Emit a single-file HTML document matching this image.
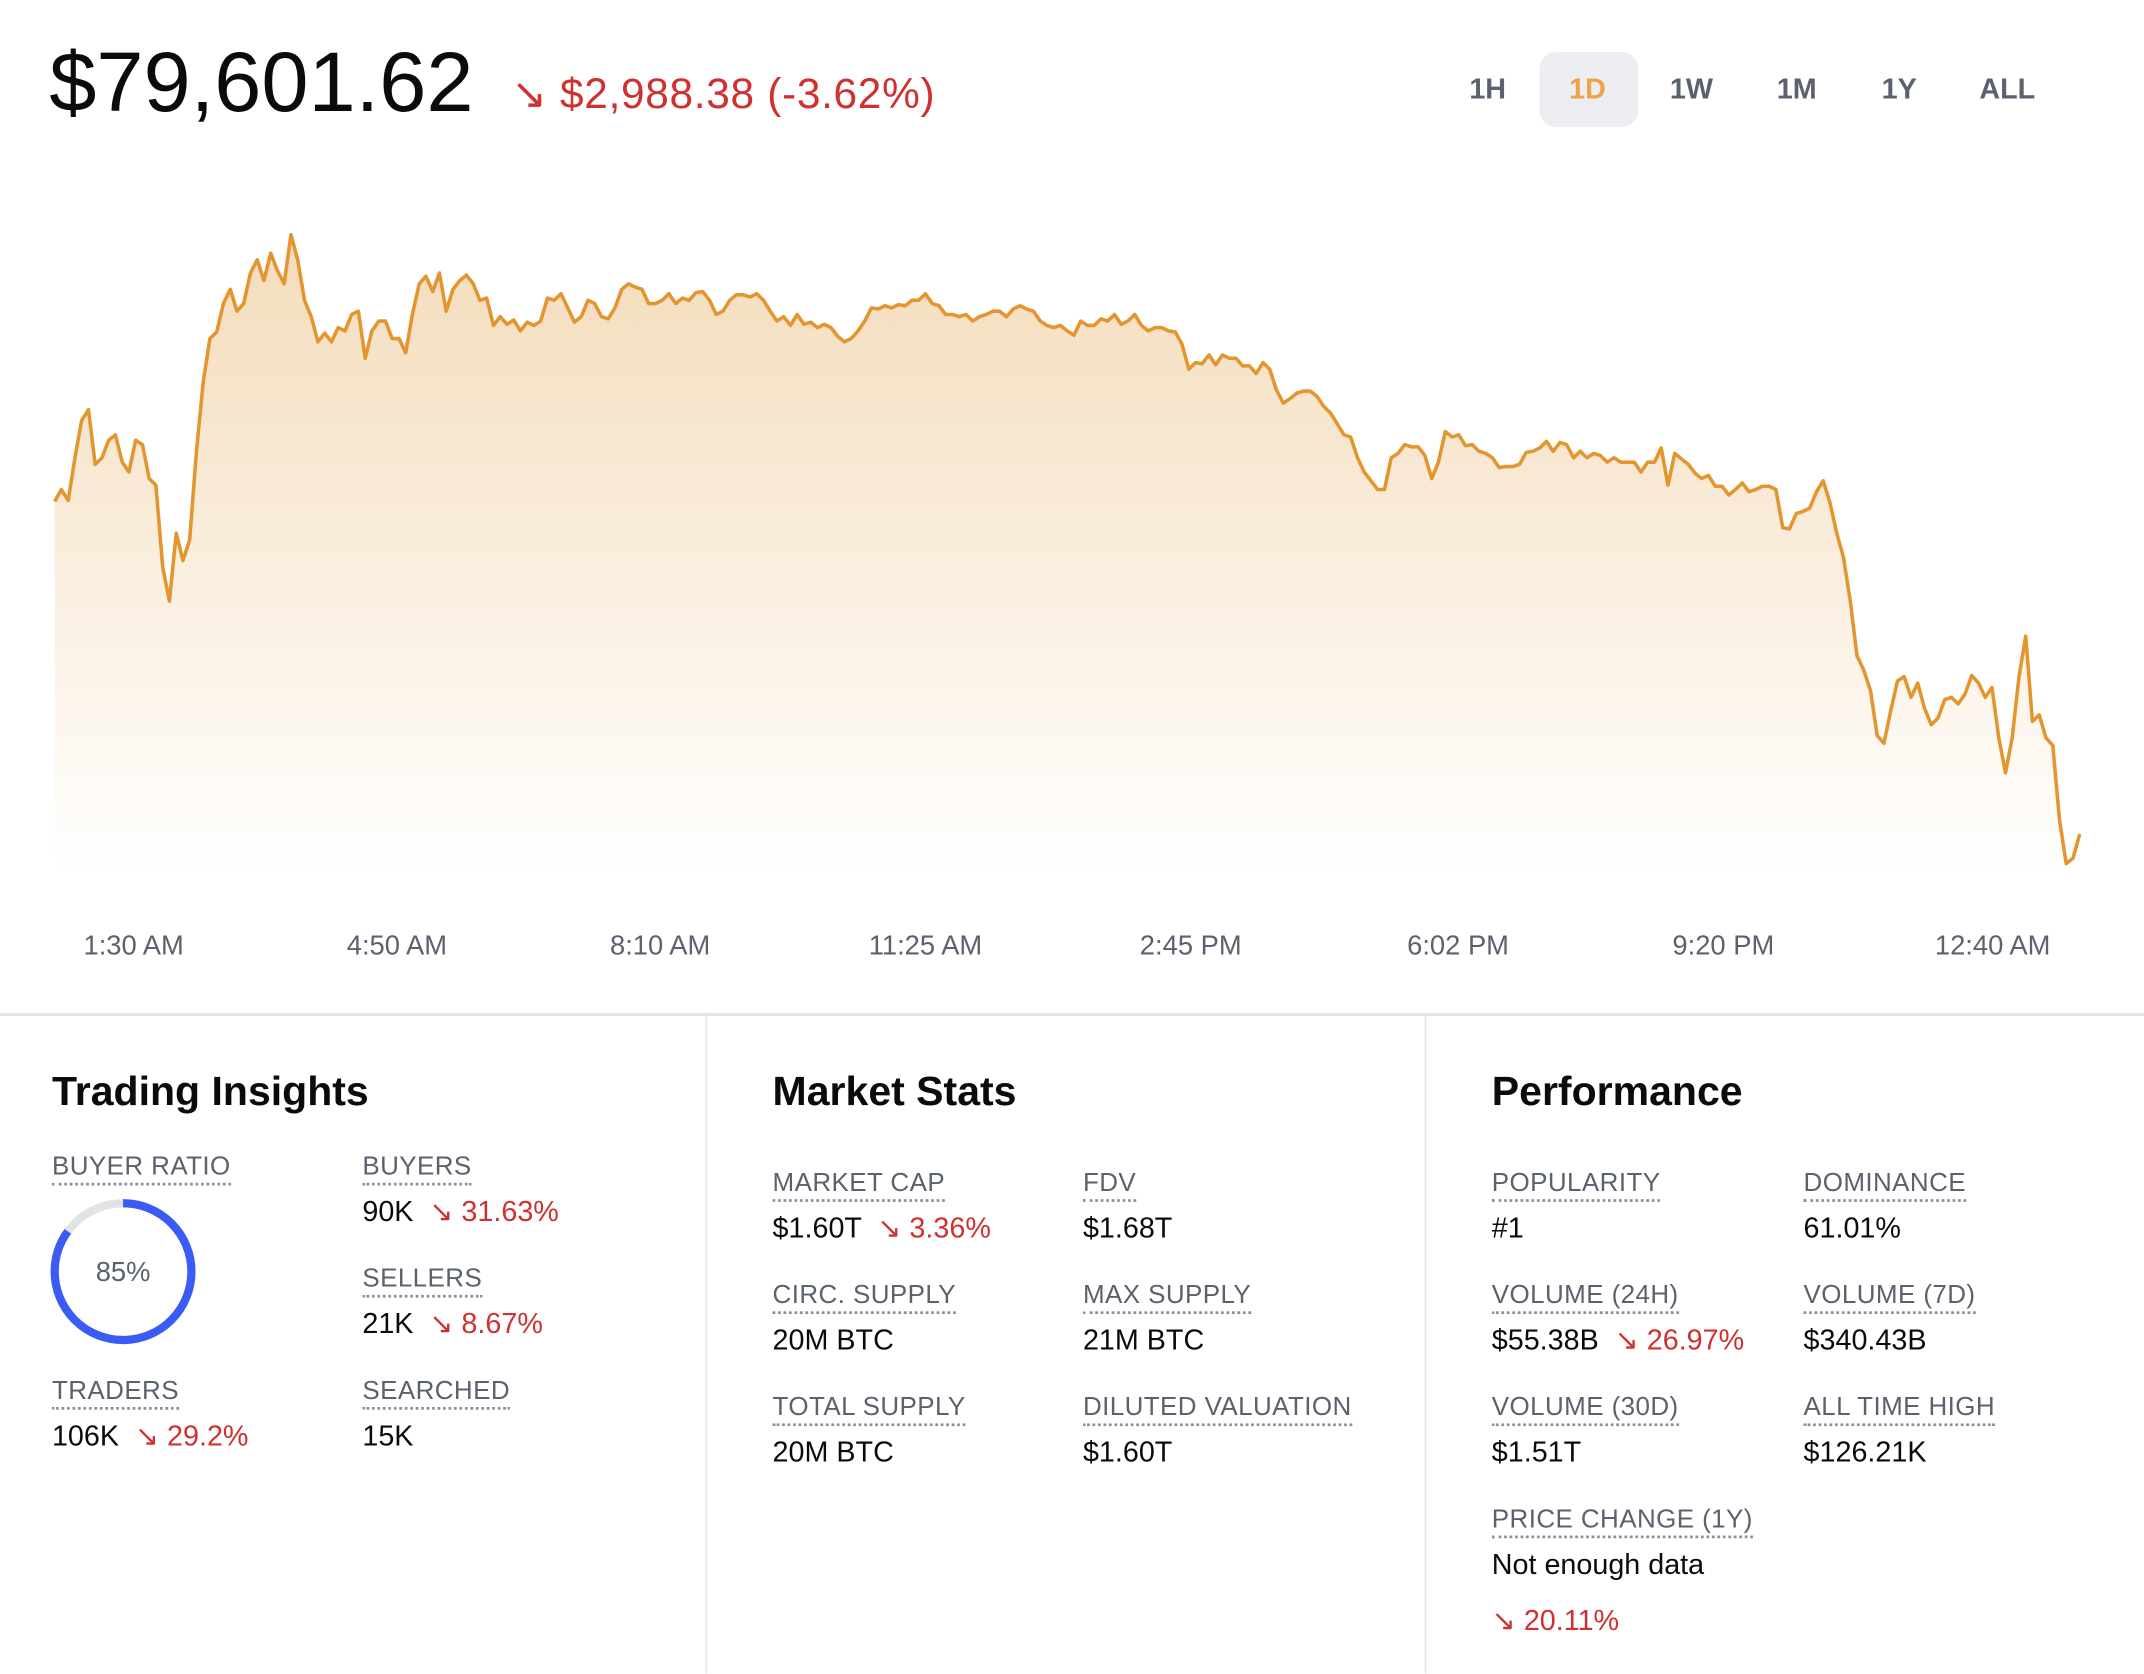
<!DOCTYPE html>
<html><head><meta charset="utf-8">
<style>
html,body{margin:0;padding:0;background:#fff;width:2144px;height:1672px;overflow:hidden}
#root{position:absolute;left:0;top:0;width:1568px;height:1223px;transform:scale(1.36735);transform-origin:0 0;font-family:"Liberation Sans",sans-serif;color:#0a0b0d}
.a{position:absolute;white-space:nowrap}
.lbl{font-size:19px;color:#5b616e;line-height:22px;border-bottom:2px dotted #8a919e;letter-spacing:0.3px}
.val{font-size:21px;line-height:24px;color:#0a0b0d}
.red{color:#cf3030}
.h{font-size:30px;font-weight:bold;line-height:34px}
.btn{font-size:21px;font-weight:bold;color:#5b616e;line-height:24px;transform:translateX(-50%)}
.xl{font-size:20px;color:#5b616e;transform:translateX(-50%);line-height:22px}
</style></head><body>
<div id="root">
<div class="a" style="left:36px;top:28px;font-size:62px;line-height:66px">$79,601.62</div>
<div class="a red" style="left:374px;top:52px;font-size:31px;line-height:34px;letter-spacing:0.5px">↘ $2,988.38 (-3.62%)</div>
<div class="a" style="left:1126px;top:38px;width:72px;height:55px;background:#eceef2;border-radius:12px"></div>
<div class="a btn" style="left:1088px;top:54px">1H</div>
<div class="a btn" style="left:1161px;top:54px;color:#eea24a">1D</div>
<div class="a btn" style="left:1237px;top:54px">1W</div>
<div class="a btn" style="left:1314px;top:54px">1M</div>
<div class="a btn" style="left:1389px;top:54px">1Y</div>
<div class="a btn" style="left:1468px;top:54px">ALL</div>

<svg id="chart" class="a" style="left:0;top:0" width="1568" height="740">
<defs><linearGradient id="g" x1="0" y1="0" x2="0" y2="1"><stop offset="0" stop-color="#f4dcbb"/><stop offset="1" stop-color="#ffffff"/></linearGradient></defs>
</svg>
<div id="xlabels"></div>

<div class="a" style="left:0;top:741px;width:1568px;height:2px;background:#e2e3e6"></div>
<div class="a" style="left:516px;top:743px;width:1px;height:481px;background:#e2e3e6"></div>
<div class="a" style="left:1042px;top:743px;width:1px;height:481px;background:#e2e3e6"></div>

<div class="a h" style="left:38px;top:782px">Trading Insights</div>
<div class="a lbl" style="left:38px;top:843px">BUYER RATIO</div>
<svg class="a" style="left:34px;top:874px" width="112" height="112">
<circle cx="56" cy="56" r="50" fill="none" stroke="#e2e3e6" stroke-width="6"/>
<circle cx="56" cy="56" r="50" fill="none" stroke="#3a5cf4" stroke-width="6" stroke-dasharray="267 314" transform="rotate(-90 56 56)"/>
<text x="56" y="63" text-anchor="middle" font-size="20" fill="#5b616e" font-family="Liberation Sans, sans-serif">85%</text>
</svg>
<div class="a lbl" style="left:265px;top:843px">BUYERS</div>
<div class="a val" style="left:265px;top:875px">90K <span class="red">&nbsp;↘ 31.63%</span></div>
<div class="a lbl" style="left:265px;top:925px">SELLERS</div>
<div class="a val" style="left:265px;top:957px">21K <span class="red">&nbsp;↘ 8.67%</span></div>
<div class="a lbl" style="left:38px;top:1007px">TRADERS</div>
<div class="a val" style="left:38px;top:1039px">106K <span class="red">&nbsp;↘ 29.2%</span></div>
<div class="a lbl" style="left:265px;top:1007px">SEARCHED</div>
<div class="a val" style="left:265px;top:1039px">15K</div>

<div class="a h" style="left:565px;top:782px">Market Stats</div>
<div class="a lbl" style="left:565px;top:855px">MARKET CAP</div>
<div class="a val" style="left:565px;top:887px">$1.60T <span class="red">&nbsp;↘ 3.36%</span></div>
<div class="a lbl" style="left:792px;top:855px">FDV</div>
<div class="a val" style="left:792px;top:887px">$1.68T</div>
<div class="a lbl" style="left:565px;top:937px">CIRC. SUPPLY</div>
<div class="a val" style="left:565px;top:969px">20M BTC</div>
<div class="a lbl" style="left:792px;top:937px">MAX SUPPLY</div>
<div class="a val" style="left:792px;top:969px">21M BTC</div>
<div class="a lbl" style="left:565px;top:1019px">TOTAL SUPPLY</div>
<div class="a val" style="left:565px;top:1051px">20M BTC</div>
<div class="a lbl" style="left:792px;top:1019px">DILUTED VALUATION</div>
<div class="a val" style="left:792px;top:1051px">$1.60T</div>

<div class="a h" style="left:1091px;top:782px">Performance</div>
<div class="a lbl" style="left:1091px;top:855px">POPULARITY</div>
<div class="a val" style="left:1091px;top:887px">#1</div>
<div class="a lbl" style="left:1319px;top:855px">DOMINANCE</div>
<div class="a val" style="left:1319px;top:887px">61.01%</div>
<div class="a lbl" style="left:1091px;top:937px">VOLUME (24H)</div>
<div class="a val" style="left:1091px;top:969px">$55.38B <span class="red">&nbsp;↘ 26.97%</span></div>
<div class="a lbl" style="left:1319px;top:937px">VOLUME (7D)</div>
<div class="a val" style="left:1319px;top:969px">$340.43B</div>
<div class="a lbl" style="left:1091px;top:1019px">VOLUME (30D)</div>
<div class="a val" style="left:1091px;top:1051px">$1.51T</div>
<div class="a lbl" style="left:1319px;top:1019px">ALL TIME HIGH</div>
<div class="a val" style="left:1319px;top:1051px">$126.21K</div>
<div class="a lbl" style="left:1091px;top:1101px">PRICE CHANGE (1Y)</div>
<div class="a val" style="left:1091px;top:1133px">Not enough data</div>
<div class="a val red" style="left:1091px;top:1174px">↘ 20.11%</div>
</div>

<script>
const timeLabels = ["1:30 AM","4:50 AM","8:10 AM","11:25 AM","2:45 PM","6:02 PM","9:20 PM","12:40 AM"];
const labelFractions = [0.039,0.169,0.299,0.430,0.561,0.693,0.824,0.957];
const prices = [82540,82650,82550,82940,83280,83380,82880,82940,83100,83150,82900,82810,83100,83060,82750,82690,81940,81630,82250,82000,82190,83000,83630,84030,84090,84350,84480,84280,84350,84630,84750,84560,84810,84650,84530,84980,84750,84380,84230,84000,84080,84000,84130,84100,84250,84280,83850,84100,84190,84190,84030,84030,83900,84250,84530,84600,84460,84630,84280,84480,84560,84610,84530,84380,84400,84150,84230,84160,84200,84100,84180,84150,84190,84400,84380,84440,84310,84180,84230,84380,84350,84230,84210,84310,84480,84530,84500,84480,84350,84350,84380,84440,84350,84400,84380,84450,84460,84380,84250,84280,84380,84430,84430,84410,84440,84380,84280,84190,84230,84150,84250,84160,84180,84130,84160,84130,84050,84000,84030,84100,84190,84310,84300,84330,84310,84340,84330,84380,84380,84440,84350,84330,84250,84250,84230,84250,84190,84230,84250,84280,84280,84230,84300,84330,84300,84280,84190,84150,84130,84150,84100,84060,84190,84150,84150,84210,84190,84250,84160,84190,84250,84150,84100,84130,84130,84100,84090,83980,83750,83810,83800,83880,83790,83880,83850,83850,83780,83780,83710,83810,83750,83560,83440,83480,83530,83550,83550,83500,83410,83350,83250,83150,83130,82940,82810,82730,82650,82650,82940,82980,83060,83040,83040,82960,82750,82900,83180,83130,83150,83050,83060,83000,82980,82940,82850,82860,82860,82880,82990,83000,83030,83090,83000,83080,83060,82940,83000,82940,82980,82960,82900,82940,82900,82900,82900,82810,82900,82900,83030,82690,82980,82930,82880,82800,82750,82780,82680,82680,82600,82650,82710,82630,82650,82680,82680,82650,82300,82290,82430,82450,82480,82630,82730,82530,82250,82030,81630,81130,81000,80810,80400,80330,80630,80900,80940,80750,80880,80650,80500,80560,80730,80750,80690,80780,80950,80880,80750,80840,80380,80060,80380,80940,81310,80530,80590,80380,80310,79630,79230,79280,79500];
const yDomain = [79250, 85000];

const X0=40, X1=1521, YT=170, YB=630, BASE=640;
function xs(i){return X0+(X1-X0)*i/(prices.length-1);}
function ys(v){return YB-(v-yDomain[0])/(yDomain[1]-yDomain[0])*(YB-YT);}
const svg=document.getElementById('chart');
const NS='http://www.w3.org/2000/svg';
let d='';
prices.forEach((p,i)=>{d+=(i?'L':'M')+xs(i).toFixed(1)+','+ys(p).toFixed(1);});
const area=document.createElementNS(NS,'path');
area.setAttribute('d',d+'L'+X1+','+BASE+'L'+X0+','+BASE+'Z');
area.setAttribute('fill','url(#g)');


svg.appendChild(area);
const line=document.createElementNS(NS,'path');
line.setAttribute('d',d);
line.setAttribute('fill','none');
line.setAttribute('stroke','#e3962f');
line.setAttribute('stroke-width','2.6');
line.setAttribute('stroke-linejoin','round');


svg.appendChild(line);
const xl=document.getElementById('xlabels');
timeLabels.forEach((t,i)=>{
  const el=document.createElement('div');
  el.className='a xl';
  el.style.left=(X0+(X1-X0)*labelFractions[i])+'px';
  el.style.top='681px';
  el.textContent=t;
  
  
  xl.appendChild(el);
});
</script>
</body></html>
